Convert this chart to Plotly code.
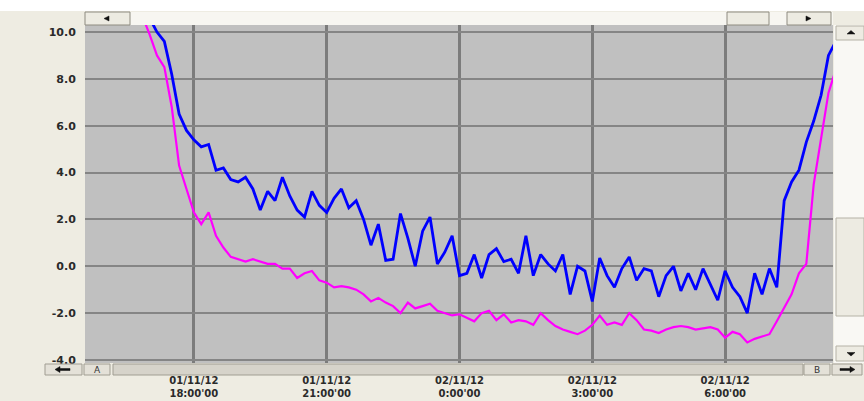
import pandas as pd
import plotly.graph_objects as go

# ---- data (10-minute samples from 01/11/12 16:40) ----
start_time = "2012-11-01 16:40"
blue_values = [
    12.0, 11.3, 10.6, 10.0, 9.6, 8.2, 6.5, 5.8, 5.4, 5.1,
    5.2, 4.1, 4.2, 3.7, 3.6, 3.8, 3.3, 2.4, 3.2, 2.8,
    3.8, 3.0, 2.4, 2.1, 3.2, 2.6, 2.3, 2.9, 3.3, 2.5,
    2.8, 2.0, 0.9, 1.8, 0.25, 0.3, 2.25, 1.2, 0.0, 1.5,
    2.1, 0.1, 0.6, 1.3, -0.4, -0.3, 0.5, -0.5, 0.5, 0.75,
    0.2, 0.3, -0.3, 1.3, -0.4, 0.5, 0.1, -0.2, 0.5, -1.2,
    0.0, -0.2, -1.5, 0.35, -0.4, -0.9, -0.1, 0.4, -0.6, -0.1,
    -0.2, -1.3, -0.4, 0.0, -1.05, -0.3, -1.0, -0.1, -0.8, -1.45,
    -0.2, -0.9, -1.3, -2.0, -0.3, -1.2, -0.1, -0.9, 2.8, 3.6,
    4.1, 5.3, 6.2, 7.3, 9.0, 9.6,
]
magenta_values = [
    11.5, 10.7, 9.9, 9.0, 8.5, 6.8, 4.3, 3.3, 2.3, 1.8,
    2.3, 1.3, 0.8, 0.4, 0.3, 0.2, 0.3, 0.2, 0.1, 0.1,
    -0.1, -0.1, -0.5, -0.3, -0.2, -0.6, -0.7, -0.9, -0.85, -0.9,
    -1.0, -1.2, -1.5, -1.35, -1.55, -1.7, -2.0, -1.55, -1.8, -1.7,
    -1.6, -1.9, -2.0, -2.1, -2.05, -2.2, -2.35, -2.0, -1.9, -2.3,
    -2.05, -2.4, -2.3, -2.35, -2.5, -2.0, -2.3, -2.55, -2.7, -2.8,
    -2.9, -2.75, -2.5, -2.1, -2.5, -2.4, -2.5, -2.0, -2.3, -2.7,
    -2.75, -2.85, -2.7, -2.6, -2.55, -2.6, -2.7, -2.65, -2.6, -2.7,
    -3.05, -2.8, -2.9, -3.25, -3.1, -3.0, -2.9, -2.35, -1.8, -1.2,
    -0.3, 0.1, 3.5, 5.5, 7.4, 8.4,
]
tick_times = ["2012-11-01 18:00", "2012-11-01 21:00", "2012-11-02 00:00",
              "2012-11-02 03:00", "2012-11-02 06:00"]
tick_labels = ["01/11/12<br>18:00'00", "01/11/12<br>21:00'00", "02/11/12<br>0:00'00",
               "02/11/12<br>3:00'00", "02/11/12<br>6:00'00"]
y_ticks = [-4, -2, 0, 2, 4, 6, 8, 10]
y_labels = ["-4.0", "-2.0", "0.0", "2.0", "4.0", "6.0", "8.0", "10.0"]

times = pd.date_range(start_time, periods=len(blue_values), freq="10min")

W, H = 864, 401
L, R, T, B = 85, 833, 25, 363


def px(x):
    return (x - L) / (R - L)


def py(y):
    return (B - y) / (B - T)


fig = go.Figure()
fig.add_trace(go.Scatter(x=times, y=magenta_values, mode="lines",
                         line=dict(color="#FF00FF", width=2.2), showlegend=False))
fig.add_trace(go.Scatter(x=times, y=blue_values, mode="lines",
                         line=dict(color="#0000FF", width=2.8), showlegend=False))

shapes = []
NOLINE = "rgba(0,0,0,0)"


def rect(x0, y0, x1, y1, fill, line="#A8A599", w=1):
    shapes.append(dict(type="rect", xref="paper", yref="paper", layer="above",
                       x0=px(x0), x1=px(x1), y0=py(y1), y1=py(y0),
                       fillcolor=fill, line=dict(color=line, width=w)))


def poly(points, fill="#111111"):
    d = "M " + " L ".join(f"{px(a):.5f},{py(b):.5f}" for a, b in points) + " Z"
    shapes.append(dict(type="path", xref="paper", yref="paper", layer="above",
                       path=d, fillcolor=fill, line=dict(color=fill, width=0.5)))


# top white band
rect(0, 0, W, 11, "#FFFFFF", line=NOLINE, w=0)
# top scrollbar
rect(85, 12, 833, 25, "#F7F6F1", line=NOLINE, w=0)
rect(85, 12, 130, 25, "#EDEBE2", line="#8E8B80")
rect(727, 12, 769, 25, "#EDEBE2", line="#8E8B80")
rect(787, 12, 831, 25, "#EDEBE2", line="#8E8B80")
poly([(104, 18.5), (109, 16), (109, 21)])
poly([(811, 18.5), (806, 16), (806, 21)])
# right scrollbar
rect(834, 25, 864, 363, "#F9F8F4", line=NOLINE, w=0)
rect(836, 26, 864, 40, "#EDEBE2", line="#B5B2A6")
rect(836, 218, 864, 316, "#EDEBE2", line="#B5B2A6")
rect(836, 346, 864, 361, "#EDEBE2", line="#B5B2A6")
poly([(851, 30.5), (847, 34), (855, 34)])
poly([(851, 356), (847, 352.5), (855, 352.5)])
# bottom scrollbar
rect(113, 364, 803, 375, "#D6D3CA", line="#A09D92")
rect(45, 364, 82, 375, "#E4E1D8", line="#A09D92")
rect(84, 364, 110, 375, "#E4E1D8", line="#A09D92")
rect(804, 364, 830, 375, "#E4E1D8", line="#A09D92")
rect(832, 364, 862, 375, "#E4E1D8", line="#A09D92")
# thick arrows in the bottom buttons
poly([(55, 369.5), (60, 366.5), (60, 368.5), (70, 368.5), (70, 370.5), (60, 370.5), (60, 372.5)])
poly([(855, 369.5), (850, 366.5), (850, 368.5), (840, 368.5), (840, 370.5), (850, 370.5), (850, 372.5)])

annotations = []


def label(x, y, text, size=9):
    annotations.append(dict(xref="paper", yref="paper", x=px(x), y=py(y), text=text,
                            showarrow=False, xanchor="center", yanchor="middle",
                            font=dict(family="DejaVu Sans", size=size, color="#333333")))


label(97, 369.5, "A", 9)
label(817, 369.5, "B", 9)

y_font = dict(family="DejaVu Sans", size=11, color="#2a2a2a", weight="bold")
x_font = dict(family="DejaVu Sans", size=10, color="#2a2a2a", weight="bold")

fig.update_layout(
    width=W, height=H,
    margin=dict(l=L, r=W - R, t=T, b=H - B, pad=0, autoexpand=False),
    paper_bgcolor="#EEECE2",
    plot_bgcolor="#C0C0C0",
    shapes=shapes,
    annotations=annotations,
    xaxis=dict(
        range=["2012-11-01 15:32:28", "2012-11-02 08:26:10"],
        tickvals=tick_times, ticktext=tick_labels,
        showgrid=True, gridcolor="#7C7C7C", gridwidth=3,
        ticks="outside", ticklen=8, tickcolor="rgba(0,0,0,0)",
        tickfont=x_font, automargin=False,
        zeroline=False, showline=False, fixedrange=True,
    ),
    yaxis=dict(
        range=[-4.13, 10.3],
        tickvals=y_ticks, ticktext=y_labels,
        showgrid=True, gridcolor="#858585", gridwidth=2,
        ticks="outside", ticklen=6, tickcolor="rgba(0,0,0,0)",
        tickfont=y_font, automargin=False,
        zeroline=False, showline=False, fixedrange=True,
    ),
)

fig.write_html("out.html", config={"displayModeBar": False},
               post_script="document.body.style.margin='0px';")
